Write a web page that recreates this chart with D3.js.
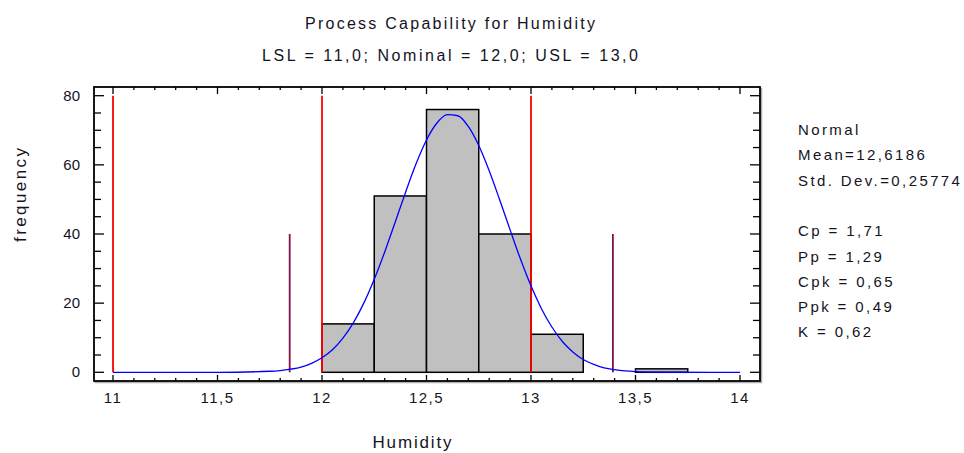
<!DOCTYPE html>
<html>
<head>
<meta charset="utf-8">
<script src="https://cdn.jsdelivr.net/npm/d3@7"></script>
<style>
  body { margin: 0; background: #fff; }
  text { font-family: "Liberation Sans", Arial, sans-serif; fill: #14141e; }
</style>
</head>
<body>
<div id="viz"></div>
<script>
// histogram bins (lower edge, width 0.25) and counts
var binStart = [11.75, 12.0, 12.25, 12.5, 12.75, 13.0, 13.25, 13.5];
var binWidth = 0.25;
var binFreq = [0, 14, 51, 76, 40, 11, 0, 1];

// fitted normal curve
var curveX = [11.0, 11.5, 11.75, 11.8, 11.85, 11.9, 11.95, 12.0, 12.05, 12.1, 12.15, 12.2, 12.25,
              12.3, 12.35, 12.4, 12.45, 12.5, 12.55, 12.6, 12.65, 12.7, 12.75, 12.8, 12.85,
              12.9, 12.95, 13.0, 13.05, 13.1, 13.15, 13.2, 13.25, 13.3, 13.35, 13.4, 13.45,
              13.5, 13.6, 13.7, 14.0];
var curveY = [0, 0, 0.3, 0.5, 0.9, 1.5, 2.6, 4.2, 6.5, 9.9, 14.3, 20.0, 26.9,
              34.8, 43.4, 52.1, 60.3, 67.2, 72.1, 74.5, 74.2, 71.1, 65.6, 58.3, 49.9,
              41.2, 32.7, 25.0, 18.4, 13.1, 8.9, 5.9, 3.7, 2.3, 1.3, 0.75, 0.4,
              0.2, 0.05, 0.01, 0];

// spec limits and +/- 3 sigma lines
var specX = [11.0, 12.0, 13.0];
var sigmaX = [11.8454, 13.3918];

// axis ticks
var xTicks = [11, 11.5, 12, 12.5, 13, 13.5, 14];
var yTicks = [0, 20, 40, 60, 80];

var titleText = "Process Capability for Humidity";
var subtitleText = "LSL = 11,0; Nominal = 12,0; USL = 13,0";
var statLines = ["Normal", "Mean=12,6186", "Std. Dev.=0,25774", "",
                 "Cp = 1,71", "Pp = 1,29", "Cpk = 0,65", "Ppk = 0,49", "K = 0,62"];

var W = 964, H = 453;
var frame = {left: 94, right: 760, top: 87, bottom: 381};

var svg = d3.select("#viz")
  .append("svg")
  .attr("width", W)
  .attr("height", H);

var x = d3.scaleLinear().domain([11, 14]).range([113, 740]);
var y = d3.scaleLinear().domain([0, 80]).range([372.3, 95.7]);

var fmt = function(d) { return String(d).replace(".", ","); };

// frame with a faint shadow
svg.append("rect")
  .attr("x", frame.left + 1.5).attr("y", frame.top + 1.5)
  .attr("width", frame.right - frame.left).attr("height", frame.bottom - frame.top)
  .attr("fill", "none").attr("stroke", "#b0b0b0").attr("stroke-width", 1.5);
svg.append("rect")
  .attr("x", frame.left).attr("y", frame.top)
  .attr("width", frame.right - frame.left).attr("height", frame.bottom - frame.top)
  .attr("fill", "#fff").attr("stroke", "#000").attr("stroke-width", 1.8);

// tick marks on all four sides, pointing inward
var xMinor = d3.range(110, 141).map(function(d) { return d / 10; });
var yMinor = d3.range(0, 81, 5);
var ticks = svg.append("g").attr("stroke", "#000").attr("stroke-width", 1.3);
xMinor.forEach(function(v) {
  var major = xTicks.indexOf(v) >= 0;
  ticks.append("line").attr("x1", x(v)).attr("x2", x(v))
    .attr("y1", frame.bottom).attr("y2", frame.bottom - (major ? 6 : 3));
  ticks.append("line").attr("x1", x(v)).attr("x2", x(v))
    .attr("y1", frame.top).attr("y2", frame.top + (major ? 7 : 3));
});
yMinor.forEach(function(v) {
  var major = yTicks.indexOf(v) >= 0;
  ticks.append("line").attr("y1", y(v)).attr("y2", y(v))
    .attr("x1", frame.left).attr("x2", frame.left + (major ? 10 : 7));
  ticks.append("line").attr("y1", y(v)).attr("y2", y(v))
    .attr("x1", frame.right).attr("x2", frame.right - (major ? 10 : 7));
});

// tick labels
svg.append("g").selectAll("text")
  .data(xTicks).enter().append("text")
  .attr("x", function(d) { return x(d); })
  .attr("y", 403)
  .attr("text-anchor", "middle")
  .style("font-size", "15px")
  .style("letter-spacing", "1.5px")
  .text(fmt);
svg.append("g").selectAll("text")
  .data(yTicks).enter().append("text")
  .attr("x", 80)
  .attr("y", function(d) { return y(d) + 5; })
  .attr("text-anchor", "end")
  .style("font-size", "15px")
  .text(fmt);

// histogram bars
svg.append("g").selectAll("rect")
  .data(binStart).enter().append("rect")
  .attr("x", function(d) { return x(d); })
  .attr("width", function(d) { return x(d + binWidth) - x(d); })
  .attr("y", function(d, i) { return y(binFreq[i]); })
  .attr("height", function(d, i) { return y(0) - y(binFreq[i]); })
  .attr("fill", "#c0c0c0")
  .attr("stroke", "#000")
  .attr("stroke-width", 1.5);

// spec limit lines
svg.append("g").selectAll("line")
  .data(specX).enter().append("line")
  .attr("x1", function(d) { return x(d); }).attr("x2", function(d) { return x(d); })
  .attr("y1", y(0)).attr("y2", y(80))
  .attr("stroke", "#ff0000").attr("stroke-width", 1.8);

// 3 sigma lines
svg.append("g").selectAll("line")
  .data(sigmaX).enter().append("line")
  .attr("x1", function(d) { return x(d); }).attr("x2", function(d) { return x(d); })
  .attr("y1", y(0)).attr("y2", y(40))
  .attr("stroke", "#801050").attr("stroke-width", 1.8);

// normal curve
svg.append("path")
  .datum(curveX)
  .attr("fill", "none")
  .attr("stroke", "#0000ff")
  .attr("stroke-width", 1.3)
  .attr("d", d3.line()
    .x(function(d) { return x(d); })
    .y(function(d, i) { return y(curveY[i]); })
    .curve(d3.curveMonotoneX));

// titles
svg.append("text")
  .attr("x", 450).attr("y", 29)
  .attr("text-anchor", "middle")
  .attr("textLength", 290).attr("lengthAdjust", "spacing")
  .style("font-size", "16px")
  .text(titleText);
svg.append("text")
  .attr("x", 450).attr("y", 61)
  .attr("text-anchor", "middle")
  .attr("textLength", 376).attr("lengthAdjust", "spacing")
  .style("font-size", "16px")
  .text(subtitleText);

// axis titles
svg.append("text")
  .attr("transform", "translate(26,195) rotate(-90)")
  .attr("text-anchor", "middle")
  .attr("textLength", 94).attr("lengthAdjust", "spacing")
  .style("font-size", "17px")
  .text("frequency");
svg.append("text")
  .attr("x", 412).attr("y", 448)
  .attr("text-anchor", "middle")
  .attr("textLength", 79).attr("lengthAdjust", "spacing")
  .style("font-size", "17px")
  .text("Humidity");

// statistics panel
svg.append("g").selectAll("text")
  .data(statLines).enter().append("text")
  .attr("x", 798)
  .attr("y", function(d, i) { return 135 + i * 25.3; })
  .style("font-size", "15px")
  .style("letter-spacing", "2.4px")
  .text(function(d) { return d; });
</script>
</body>
</html>
